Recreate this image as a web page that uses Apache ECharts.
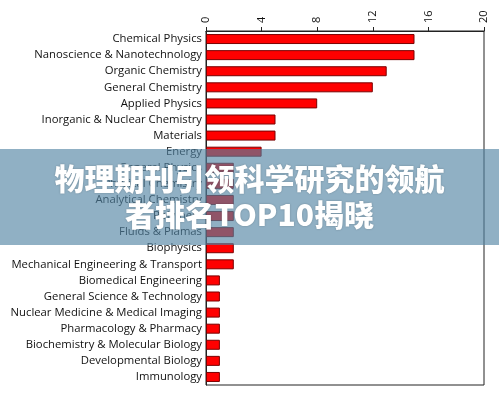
<!DOCTYPE html>
<html>
<head>
<meta charset="utf-8">
<script src="https://cdn.jsdelivr.net/npm/echarts@6/dist/echarts.min.js"></script>
<style>
html,body{margin:0;padding:0;background:#fff;}
#c{width:499px;height:394px;}
</style>
</head>
<body>
<div id="c"></div>
<script>
const categories = [
  "Chemical Physics",
  "Nanoscience & Nanotechnology",
  "Organic Chemistry",
  "General Chemistry",
  "Applied Physics",
  "Inorganic & Nuclear Chemistry",
  "Materials",
  "Energy",
  "General Physics",
  "Physical Chemistry",
  "Analytical Chemistry",
  "Polymers",
  "Fluids & Plamas",
  "Biophysics",
  "Mechanical Engineering & Transport",
  "Biomedical Engineering",
  "General Science & Technology",
  "Nuclear Medicine & Medical Imaging",
  "Pharmacology & Pharmacy",
  "Biochemistry & Molecular Biology",
  "Developmental Biology",
  "Immunology"
];
const values = [15, 15, 13, 12, 8, 5, 5, 4, 2, 2, 2, 2, 2, 2, 2, 1, 1, 1, 1, 1, 1, 1];
const xTicks = [0, 4, 8, 12, 16, 20];
const titleLines = ["物理期刊引领科学研究的领航", "者排名TOP10揭晓"];

const chart = echarts.init(document.getElementById('c'), null, {renderer: 'canvas'});
chart.setOption({
  animation: false,
  backgroundColor: '#ffffff',
  grid: {left: 206, right: 15, top: 31, bottom: 9, show: true, borderColor: '#222', borderWidth: 1, backgroundColor: 'transparent'},
  xAxis: {
    type: 'value', position: 'top',
    min: xTicks[0], max: xTicks[xTicks.length - 1], interval: xTicks[1] - xTicks[0],
    axisLine: {show: true, lineStyle: {color: '#222', width: 1}},
    axisTick: {show: true, length: 4, lineStyle: {color: '#222'}},
    splitLine: {show: false},
    axisLabel: {rotate: -90, fontSize: 11, color: '#111', fontFamily: 'Open Sans', margin: 8}
  },
  yAxis: {
    type: 'category', data: categories, inverse: true,
    axisLine: {show: true, lineStyle: {color: '#222'}},
    axisTick: {show: false},
    axisLabel: {fontSize: 11.3, color: '#111', fontFamily: 'Open Sans', margin: 4}
  },
  series: [{
    type: 'bar', data: values, barWidth: 10,
    itemStyle: {color: '#ff0000', borderColor: '#7a0000', borderWidth: 1}
  }],
  graphic: [
    {type: 'rect', left: 0, top: 149, z: 100, shape: {width: 499, height: 96}, style: {fill: 'rgba(81,132,163,0.64)'}},
    {type: 'text', x: 249.5, y: 179, z: 101, style: {text: titleLines[0], fill: '#fff', font: '900 30px "Noto Sans CJK SC"', textAlign: 'center', textVerticalAlign: 'middle', textShadowColor: 'rgba(0,0,0,0.25)', textShadowBlur: 2}},
    {type: 'text', x: 249.5, y: 215, z: 101, style: {text: titleLines[1], fill: '#fff', font: '900 30px "Noto Sans CJK SC"', textAlign: 'center', textVerticalAlign: 'middle', textShadowColor: 'rgba(0,0,0,0.25)', textShadowBlur: 2}}
  ]
});
</script>
</body>
</html>
